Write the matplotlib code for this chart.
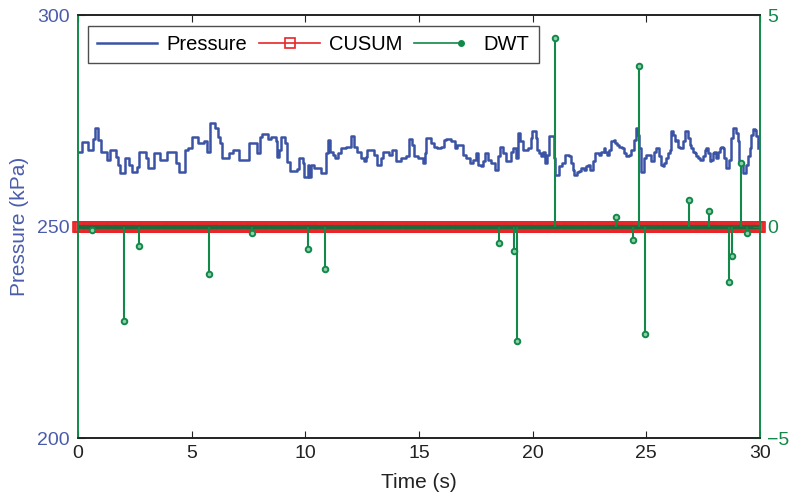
"""
Pressure / CUSUM / DWT chart (plotyy style).
"""

import matplotlib
matplotlib.use('Agg')
import matplotlib.pyplot as plt
import numpy as np
from matplotlib.lines import Line2D
from matplotlib.legend_handler import HandlerBase

plt.rcParams['font.family'] = ['Liberation Sans', 'DejaVu Sans']
plt.rcParams['axes.unicode_minus'] = True

# Pressure trace: start time of each level (s) and level (kPa)
press_t = [0.00, 0.16, 0.45, 0.67, 0.75, 0.89, 1.01, 1.26, 1.39, 1.66, 1.77, 1.86, 2.07, 2.24,
           2.36, 2.60, 2.68, 2.98, 3.07, 3.36, 3.61, 3.90, 4.30, 4.44, 4.72, 4.82, 5.03, 5.26,
           5.56, 5.68, 5.81, 6.03, 6.14, 6.26, 6.35, 6.64, 6.83, 7.08, 7.52, 7.86, 8.01, 8.11,
           8.34, 8.49, 8.70, 8.77, 8.84, 8.93, 9.11, 9.21, 9.33, 9.62, 9.72, 9.88, 9.93,
           10.10, 10.16, 10.25, 10.40, 10.70, 10.93, 10.99, 11.10, 11.20, 11.32, 11.45, 11.58,
           11.78, 11.99, 12.14, 12.29, 12.44, 12.58, 12.66, 12.73, 13.02, 13.17, 13.32, 13.43,
           13.69, 13.83, 14.01, 14.20, 14.43, 14.55, 14.70, 14.79, 14.94,
           15.18, 15.25, 15.33, 15.52, 15.66, 15.80, 15.99, 16.10, 16.21, 16.43, 16.57, 16.69,
           16.94, 17.09, 17.23, 17.39, 17.53, 17.60, 17.75, 17.82, 17.89, 18.04, 18.18, 18.35,
           18.48, 18.55, 18.70, 18.84, 19.06, 19.14, 19.28, 19.36, 19.43, 19.58, 19.80, 19.94,
           19.97, 20.15, 20.19, 20.30, 20.37, 20.44, 20.53, 20.63, 20.70, 20.94, 21.00, 21.14,
           21.29, 21.41, 21.61, 21.70, 21.76, 21.83, 21.93, 22.05, 22.14, 22.24, 22.35, 22.44,
           22.54, 22.64, 22.73, 22.90, 23.02, 23.12, 23.20, 23.27, 23.34, 23.46, 23.56, 23.64,
           23.71, 23.81, 23.93, 24.00, 24.10, 24.22, 24.34, 24.44, 24.54, 24.63, 24.69, 24.78,
           24.88, 24.99, 25.21, 25.36, 25.43, 25.58, 25.65, 25.72, 25.80, 25.87, 25.94, 26.02,
           26.08, 26.16, 26.24, 26.31, 26.38, 26.46, 26.60, 26.68, 26.82, 26.90, 26.97, 27.04,
           27.12, 27.19, 27.26, 27.34, 27.48, 27.56, 27.63, 27.70, 27.78, 27.85, 27.92, 27.99,
           28.07, 28.14, 28.22, 28.29, 28.36, 28.43, 28.51, 28.65, 28.73, 28.80, 28.94, 29.02,
           29.09, 29.17, 29.24, 29.39, 29.46, 29.54, 29.61, 29.68, 29.80, 29.83, 29.90]
press_kpa = [267.7, 270.0, 268.1, 270.8, 273.2, 270.4, 267.7, 265.7, 268.1, 266.5, 264.5, 262.6,
             266.1, 264.5, 263.0, 264.1, 267.7, 266.1, 263.8, 267.3, 265.7, 267.7, 264.9, 263.0,
             268.1, 268.5, 271.2, 269.7, 270.1, 267.7, 274.4, 273.2, 271.2, 269.7, 266.1, 267.3,
             268.1, 265.7, 269.7, 267.3, 271.2, 271.9, 270.6, 271.2, 270.1, 266.5, 268.1, 271.2,
             269.7, 265.3, 263.2, 263.7, 266.1, 264.9, 261.8,
             264.5, 261.6, 264.6, 263.9, 262.6, 267.3, 270.5, 267.7, 266.9, 266.2, 267.3, 268.5,
             268.9, 271.3, 268.9, 267.7, 266.2, 265.4, 266.5, 268.1, 266.9, 264.6, 266.2, 267.7,
             266.9, 268.1, 265.4, 266.2, 266.6, 270.7, 269.3, 266.6, 266.2,
             265.0, 267.3, 270.9, 269.7, 268.9, 268.5, 268.9, 270.5, 270.7, 270.1, 268.5, 269.3,
             266.9, 266.2, 265.0, 265.8, 267.3, 264.6, 264.2, 265.4, 267.3, 265.8, 265.0, 263.4,
             266.6, 268.9, 267.3, 265.4, 267.7, 268.5, 266.2, 272.1, 270.1, 268.1, 268.5, 270.9,
             272.6, 270.9, 268.1, 267.3, 266.6, 267.7, 265.0, 266.9, 271.3, 266.2, 262.2, 264.2,
             265.0, 266.9, 266.6, 265.0, 263.4, 262.2, 263.0, 263.2, 263.8, 263.4, 264.2, 264.6,
             263.4, 265.4, 267.3, 266.9, 267.7, 268.5, 267.7, 266.9, 268.1, 270.1, 270.5, 269.7,
             269.3, 268.9, 268.5, 267.3, 266.6, 266.9, 268.1, 270.5, 273.2, 271.7, 268.5, 263.0,
             266.2, 266.9, 265.4, 267.7, 268.5, 266.6, 264.6, 264.2, 265.0, 266.2, 267.3, 268.1,
             272.6, 271.7, 270.1, 270.5, 268.9, 268.5, 270.1, 272.5, 270.9, 269.3, 268.5, 267.7,
             267.3, 266.6, 266.2, 265.8, 266.6, 268.1, 268.5, 267.3, 265.4, 265.8, 267.3, 267.7,
             266.2, 267.7, 268.5, 268.9, 268.5, 266.2, 263.8, 265.8, 270.9, 273.2, 272.1, 270.1,
             265.0, 264.6, 262.6, 264.6, 266.6, 268.5, 271.7, 273.1, 272.9, 271.3, 268.5]

# CUSUM stays flat at the baseline level for the whole record
cusum_t = np.linspace(0, 30, 601)
cusum_kpa = np.full_like(cusum_t, 250.0)

# DWT detail coefficients (right axis)
dwt_t = [0.63, 2.04, 2.68, 5.75, 7.67, 10.10, 10.87, 18.53, 19.20, 19.31, 20.99,
         23.67, 24.43, 24.68, 24.94, 26.87, 27.76, 28.65, 28.79, 29.17, 29.43]
dwt_val = [-0.08, -2.23, -0.46, -1.12, -0.15, -0.53, -1.00, -0.38, -0.57, -2.71, 4.46,
           0.22, -0.32, 3.79, -2.55, 0.63, 0.37, -1.31, -0.69, 1.50, -0.16]

BLUE = '#3a53a4'
BLUE_TXT = '#4a5cab'
RED = '#e8262a'
GREEN = '#12884a'
DARK_GREEN = '#1f6a3a'
INK = '#222222'


class StemHandler(HandlerBase):
    """Legend entry: line with a dot at its right end (MATLAB stem look)."""

    def create_artists(self, legend, orig, xdescent, ydescent, width, height, fontsize, trans):
        y = (height - ydescent) / 2
        x0 = -xdescent
        x1 = -xdescent + width * 0.78
        line = Line2D([x0, x1], [y, y], color=GREEN, lw=1.2)
        dot = Line2D([x1], [y], marker='o', color=GREEN, ms=4, lw=0)
        line.set_transform(trans)
        dot.set_transform(trans)
        return [line, dot]


fig = plt.figure(figsize=(7.9, 4.97), dpi=100)
ax1 = fig.add_axes([0.0987, 0.1187, 0.8633, 0.8511])
ax2 = ax1.twinx()

# left axis: pressure and CUSUM
p_line, = ax1.plot(press_t, press_kpa, drawstyle='steps-post', color=BLUE, lw=1.8)
c_line, = ax1.plot(cusum_t, cusum_kpa, color=RED, lw=1.2, marker='s', ms=7.5,
                   mfc='none', mec=RED, mew=1.2, clip_on=False)
ax1.set_xlim(0, 30)
ax1.set_ylim(200, 300)
ax1.set_xticks([0, 5, 10, 15, 20, 25, 30])
ax1.set_yticks([200, 250, 300])
ax1.set_xlabel('Time (s)', fontsize=15, color=INK, labelpad=8)
ax1.set_ylabel('Pressure (kPa)', fontsize=15, color=BLUE_TXT, labelpad=6)
ax1.tick_params(axis='x', direction='in', top=True, length=5, labelsize=14, colors=INK, pad=5)
ax1.tick_params(axis='y', direction='in', length=5, labelsize=14, colors=BLUE_TXT, pad=6)

# right axis: DWT stems
markerline, stemlines, baseline = ax2.stem(dwt_t, dwt_val)
plt.setp(stemlines, color=GREEN, lw=1.5)
plt.setp(markerline, color=GREEN, marker='o', ms=4, mfc='#8fd0a8', mec=GREEN, mew=1.4)
baseline.set_visible(False)
ax2.axhline(0, color=DARK_GREEN, lw=3, zorder=1.5)
ax2.set_ylim(-5, 5)
ax2.set_yticks([-5, 0, 5])
ax2.tick_params(axis='y', direction='in', length=5, labelsize=14, colors=GREEN, pad=5)

for ax in (ax1, ax2):
    ax.spines['left'].set_color(GREEN)
    ax.spines['right'].set_color(GREEN)
    ax.spines['top'].set_color(INK)
    ax.spines['bottom'].set_color(INK)
    for s in ax.spines.values():
        s.set_linewidth(1.2)

dwt_handle = Line2D([], [], color=GREEN)
leg = ax2.legend([p_line, c_line, dwt_handle], ['Pressure', 'CUSUM', 'DWT'],
                 handler_map={dwt_handle: StemHandler()},
                 loc='upper left', bbox_to_anchor=(0.0147, 0.974), borderaxespad=0,
                 ncol=3, fontsize=14.5, frameon=True, fancybox=False, edgecolor=INK,
                 handlelength=3.0, handletextpad=0.45, columnspacing=0.6, borderpad=0.45,
                 numpoints=1)
leg.get_frame().set_linewidth(1.0)
for h in leg.legend_handles[1:2]:
    h.set_markersize(7)

fig.savefig('out.png', dpi=100)
plt.close(fig)
